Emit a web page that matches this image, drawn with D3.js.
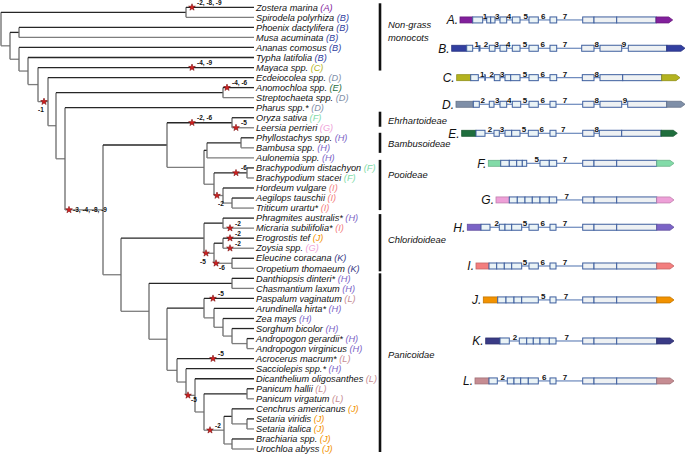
<!DOCTYPE html>
<html><head><meta charset="utf-8">
<script src="https://cdn.jsdelivr.net/npm/d3@7"></script>
<style>body{margin:0;background:#fff}svg{display:block}text{font-family:"Liberation Sans",Arial,sans-serif}</style>
</head><body><svg id="c" width="685" height="456"></svg>
<script>
// ---------------- DATA ----------------
const speciesNames = ["Zostera marina","Spirodela polyrhiza","Phoenix dactylifera","Musa acuminata","Ananas comosus","Typha latifolia","Mayaca spp.","Ecdeiocolea spp.","Anomochloa spp.","Streptochaeta spp.","Pharus spp.*","Oryza sativa","Leersia perrieri","Phyllostachys spp.","Bambusa spp.","Aulonemia spp.","Brachypodium distachyon","Brachypodium stacei","Hordeum vulgare","Aegilops tauschii","Triticum urartu*","Phragmites australis*","Micraria subilifolia*","Erogrostis tef","Zoysia spp.","Eleucine coracana","Oropetium thomaeum","Danthiopsis dinteri*","Chasmantium laxum","Paspalum vaginatum","Arundinella hirta*","Zea mays","Sorghum bicolor","Andropogon gerardii*","Andropogon virginicus","Acrocerus macrum*","Sacciolepis spp.*","Dicanthelium oligosanthes","Panicum hallii","Panicum virgatum","Cenchrus americanus","Setaria viridis","Setaria italica","Brachiaria spp.","Urochloa abyss"];
const speciesGroup = ["A","B","B","B","B","B","C","D","E","D","D","F","G","H","H","H","F","F","I","I","I","H","I","J","G","K","K","H","H","L","H","H","H","H","H","L","H","L","L","L","J","J","J","J","J"];
const groupColors = {A:"#82209c",B:"#323fa0",C:"#b4b31f",D:"#7f8fa8",E:"#1f6e3d",F:"#82dba8",G:"#eea0d8",H:"#7b63c6",I:"#f37e7e",J:"#f29200",K:"#3a3b86",L:"#c68c92"};

// tree clades: [node depth, child, child] ; numbers = species index (leaf)
const tipDepth = 253;
const paniceae = [176, 35, [185, 36, [194, 37, [203, [246, 38, 39], [223, [231, 40, [246, 41, 42]], [231, 43, 44]]]]]];
const andropogoneae = [203, 29, [213, 30, [222, 31, [231, 32, [246, 33, 34]]]]];
const panicoideae = [148, [231, 27, 28], [166, andropogoneae, paniceae]];
const chloridoideae = [203, [222, 21, 22], [213, [222, 23, 24], [231, 25, 26]]];
const pacmad = [120, chloridoideae, panicoideae];
const bop = [166, [231, 11, 12], [203, [206, [240, 13, 14], 15], [213, [246, 16, 17], [222, 18, [231, 19, 20]]]]];
const grasses = [102, bop, pacmad];
const tree = [0, [185, 0, 1], [9, [18, 2, 3], [18, 4, [27, 5, [37, 6, [47, 7, [55, [222, 8, 9], [64, 10, grasses]]]]]]]];

// gene losses (stars): branch key = leaf range of the branch's descendant node
const starBranch = ["0","6","8","7-44","11-12","12","11-44","16-17","18-20","22","23","24","23-26","25-26","29","35","37-44","40-44"];
const starDepth  = [191,191,226,43,191,235,68,235,216,229,229,229,205,215,212,212,187,209];
const starText   = ["-2, -8, -9","-4, -9","-4, -6","-1","-2, -6","-5","-3, -4, -8, -9","-6","-2","-2","-2","-2","-5","-6","-5","-5","-5","-2"];
const starLabelPos = ["ur","ur","ur","bl","ur","ur","r","ur","b","ur","ur","ur","bl","br","ur","ur","br","ur"];

// clades
const cladeNames = [["Non-grass","monocots"],["Ehrhartoideae"],["Bambusoideae"],["Pooideae"],["Chloridoideae"],["Panicoidae"]];
const cladeFirst = [0, 11, 13, 16, 21, 27];
const cladeLast  = [6, 12, 15, 20, 26, 44];

// gene structures (positions in relative units along the gene)
const geneLetters = ["A","B","C","D","E","F","G","H","I","J","K","L"];
const geneUtr5 = [[10,22.7],[1.7,16.7],[6.7,20.7],[6,23.3],[11.7,26],[38.3,50.7],[46,59.3],[17.3,31],[26,39],[33.3,47.7],[35.7,50],[25,39]];
const geneExons = [
  [[22.7,32.7],[36.7,40.7],[40.7,45],[50,56.7],[62.3,70],[79,88.3],[100,106.7],[132.7,144],[144,166.7],[166.7,206]],
  [[16.7,22.7],[28.8,30.2],[39.3,45],[50,56.7],[62.3,70],[79,88.3],[100,106.7],[131.7,144],[150,171.7],[178.3,216.7]],
  [[20.7,28.3],[34.5,35.8],[44.3,50],[55,60.7],[60.7,70],[79,88.3],[100,106.7],[132.3,144],[150,172.7],[172.7,211.7]],
  [[23.3,29.3],[39.3,44],[50,56.7],[62.3,70.7],[79,88.3],[100,106],[132.7,144],[150,171.7],[177.7,216.7]],
  [[26,35],[44,49.3],[55,61.7],[61.7,70],[78.3,88.3],[100,106],[132.7,144],[149.3,171.7],[171.7,211]],
  [[50.7,59.3],[59.3,66.7],[66.7,72.3],[72.3,76.7],[90,99.3],[99.3,106.7],[132.7,144],[144,166.7],[166.7,206.7]],
  [[59.3,67.3],[67.3,75],[75,82.3],[82.3,90],[90,99.3],[99.3,106.7],[132.7,144],[144,166.7],[166.7,206.7]],
  [[31,40],[49.3,55],[55,61.7],[61.7,71.7],[79,88.3],[100,106],[132.7,144],[144,166.7],[166.7,206.7]],
  [[39,46.7],[46.7,54.3],[54.3,61.7],[61.7,71.7],[79,88.3],[100,106],[132.7,144],[144,166.7],[166.7,206.7]],
  [[47.7,56],[56,64],[64,71.7],[71.7,88.3],[100,106],[132.7,144],[144,166.7],[166.7,206.7]],
  [[50,59.3],[69.3,76.7],[76.7,83.3],[83.3,90],[90,99.3],[99.3,106],[132.7,144],[144,166.7],[166.7,206.7]],
  [[39,47.3],[57.3,64],[64,70.7],[70.7,78.3],[78.3,88.3],[100,106],[132.7,144],[144,166.7],[166.7,206.7]]
];
const geneUtr3End = [222.7,235,230,235,227.3,224,224,224,224,224,224,224];
const geneIntronNumbers = [
  [[35,"1"],[47.3,"3"],[59,"4"],[75.7,"5"],[93.3,"6"],[115,"7"]],
  [[26.7,"1"],[36,"2"],[46.7,"3"],[58.3,"4"],[75,"5"],[92.7,"6"],[115,"7"],[146.7,"8"],[174,"9"]],
  [[32.3,"1"],[41.7,"2"],[52.3,"3"],[75,"5"],[92.7,"6"],[115,"7"],[146.7,"8"]],
  [[32.7,"2"],[47.3,"3"],[59.3,"4"],[75,"5"],[92.7,"6"],[115,"7"],[146.7,"8"],[175,"9"]],
  [[40,"2"],[52,"3"],[74,"5"],[91.7,"6"],[113.3,"7"],[146.7,"8"]],
  [[86.7,"5"],[115,"7"]],
  [[116.7,"7"]],
  [[46.7,"2"],[75,"5"],[92.7,"6"],[115,"7"]],
  [[75,"5"],[92.7,"6"],[115,"7"]],
  [[93.3,"5"],[116,"7"]],
  [[65,"2"],[116.7,"7"]],
  [[52.7,"2"],[94.3,"6"],[115,"7"]]
];

// ---------------- LAYOUT ----------------
const svg = d3.select("#c");
const yRow = d3.scaleLinear().domain([0, 44]).range([7.3, 449]);
const xTree = d3.scaleLinear().domain([0, tipDepth]).range([1, 254]);
const xGene = d3.scaleLinear().domain([0, 235]).range([450, 685]);
const geneRow = [1.26, 4.08, 7.01, 9.66, 12.55, 15.54, 19.19, 21.91, 25.77, 29.15, 33.24, 37.22];
const cladeBarFrom = [-0.4, -0.6, -0.5, -0.8, -0.4, -0.5];
const cladeBarTo   = [0.3, -0.1, -0.5, 0.2, 0.3, 0.3];
const cladeTextRow = [1.77, 11.33, 13.62, 16.7, 23.2, 34.6];

// ---------- tree ----------
function build(n) {
  if (typeof n === "number") return {leaf: n, depth: tipDepth, lo: n, hi: n, y: yRow(n)};
  const [d, ...ch] = n;
  const kids = ch.map(build);
  const node = {depth: d, children: kids,
    lo: d3.min(kids, k => k.lo), hi: d3.max(kids, k => k.hi)};
  node.y = (kids[0].y + kids[kids.length - 1].y) / 2;
  return node;
}
const root = build(tree);
const nodesByKey = {};
const gTree = svg.append("g");
(function walk(n) {
  nodesByKey[n.lo === n.hi ? String(n.lo) : n.lo + "-" + n.hi] = n;
  if (!n.children) return;
  gTree.append("line").attr("x1", xTree(n.depth)).attr("x2", xTree(n.depth))
    .attr("y1", n.children[0].y).attr("y2", n.children[n.children.length - 1].y)
    .attr("stroke", "#6a6a6a").attr("stroke-width", 1.3);
  n.children.forEach((c, i) => {
    gTree.append("line").attr("x1", xTree(n.depth)).attr("x2", xTree(c.depth))
      .attr("y1", c.y).attr("y2", c.y)
      .attr("stroke", i === 0 ? "#262626" : "#7d7d7d").attr("stroke-width", 1.3);
    walk(c);
  });
})(root);

// species labels
const lab = svg.append("g");
speciesNames.forEach((nm, i) => {
  const t = lab.append("text").attr("x", 256).attr("y", yRow(i)).attr("dy", "0.35em")
    .attr("font-size", 9.2).attr("font-style", "italic").attr("fill", "#111");
  t.append("tspan").text(nm + " ");
  t.append("tspan").attr("fill", groupColors[speciesGroup[i]]).text("(" + speciesGroup[i] + ")");
});

// stars
const lp = {ur:[5,-2.5,"start"], r:[4,2,"start"], bl:[-3,10.5,"middle"], b:[1,10,"start"], br:[3,7,"start"]};
const starSym = d3.symbol().type(d3.symbolStar).size(14);
starBranch.forEach((k, i) => {
  const n = nodesByKey[k];
  const x = xTree(starDepth[i]), y = n.y;
  svg.append("path").attr("d", starSym).attr("transform", `translate(${x},${y})`)
    .attr("fill", "#d81e1e").attr("stroke", "#7a0c0c").attr("stroke-width", 0.6);
  const o = lp[starLabelPos[i]];
  svg.append("text").attr("x", x + o[0]).attr("y", y + o[1]).attr("text-anchor", o[2])
    .attr("font-size", 6.5).attr("font-weight", "bold").attr("fill", "#111").text(starText[i]);
});

// clade bars + names
cladeNames.forEach((nm, i) => {
  svg.append("line").attr("x1", 380).attr("x2", 380)
    .attr("y1", yRow(cladeFirst[i] + cladeBarFrom[i])).attr("y2", yRow(cladeLast[i] + cladeBarTo[i]))
    .attr("stroke", "#111").attr("stroke-width", 2.6);
  nm.forEach((line, j) => {
    svg.append("text").attr("x", 388).attr("y", yRow(cladeTextRow[i]) + j * 13).attr("dy", "0.35em")
      .attr("font-size", 9.4).attr("font-style", "italic").attr("fill", "#111").text(line);
  });
});

// ---------- gene structures ----------
const boxH = 6;
geneLetters.forEach((L, gi) => {
  const yc = yRow(geneRow[gi]);
  const g = svg.append("g");
  const col = groupColors[L];
  const u5 = geneUtr5[gi], ex = geneExons[gi], u3end = geneUtr3End[gi];
  const lastEx = ex[ex.length - 1];
  const blocks = [u5].concat(ex);
  for (let k = 0; k < blocks.length - 1; k++) {
    if (blocks[k + 1][0] - blocks[k][1] > 0.2) {
      g.append("line").attr("x1", xGene(blocks[k][1])).attr("x2", xGene(blocks[k + 1][0]))
        .attr("y1", yc).attr("y2", yc).attr("stroke", "#5d7db5").attr("stroke-width", 1.1);
    }
  }
  g.append("rect").attr("x", xGene(u5[0])).attr("y", yc - boxH / 2)
    .attr("width", xGene(u5[1]) - xGene(u5[0])).attr("height", boxH)
    .attr("fill", col).attr("stroke", d3.color(col).darker(0.6)).attr("stroke-width", 0.8);
  ex.forEach((e, k) => {
    const w = xGene(e[1]) - xGene(e[0]);
    const big = k >= ex.length - 3 && e[0] > 130;
    g.append("rect").attr("x", xGene(e[0])).attr("y", yc - boxH / 2)
      .attr("width", w).attr("height", boxH)
      .attr("fill", w < 2 ? "#3d5e9e" : (big ? "#eef1f3" : "#eaf3f6"))
      .attr("stroke", "#3d5e9e").attr("stroke-width", w < 2 ? 0.4 : 1);
  });
  const s = xGene(lastEx[1]), e = xGene(u3end);
  g.append("path")
    .attr("d", `M${s},${yc - boxH / 2}L${e - 4},${yc - boxH / 2}L${e},${yc}L${e - 4},${yc + boxH / 2}L${s},${yc + boxH / 2}Z`)
    .attr("fill", col).attr("stroke", d3.color(col).darker(0.6)).attr("stroke-width", 0.8);
  geneIntronNumbers[gi].forEach(([p, t]) => {
    g.append("text").attr("x", xGene(p)).attr("y", yc - 1).attr("text-anchor", "middle")
      .attr("font-size", 8).attr("font-weight", "bold").attr("fill", "#111").text(t);
  });
  g.append("text").attr("x", xGene(u5[0]) - 2).attr("y", yc + 4.5).attr("text-anchor", "end")
    .attr("font-size", 12).attr("font-style", "italic").attr("fill", "#111").text(L + ".");
});
</script></body></html>
